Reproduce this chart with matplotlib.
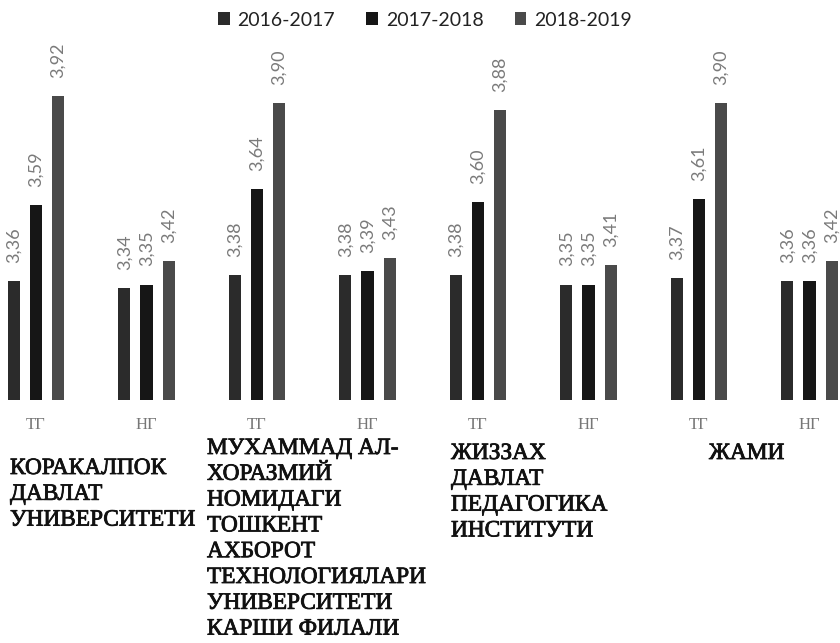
import numpy as np
import matplotlib.pyplot as plt
import matplotlib.patheffects as pe

series = ['2016-2017', '2017-2018', '2018-2019']
cats = ['ТГ', 'НГ', 'ТГ', 'НГ', 'ТГ', 'НГ', 'ТГ', 'НГ']
v2016 = [3.36, 3.34, 3.38, 3.38, 3.38, 3.35, 3.37, 3.36]
v2017 = [3.59, 3.35, 3.64, 3.39, 3.60, 3.35, 3.61, 3.36]
v2018 = [3.92, 3.42, 3.90, 3.43, 3.88, 3.41, 3.90, 3.42]
groups = ['КОРАКАЛПОК\nДАВЛАТ\nУНИВЕРСИТЕТИ',
          'МУХАММАД АЛ-\nХОРАЗМИЙ\nНОМИДАГИ\nТОШКЕНТ\nАХБОРОТ\nТЕХНОЛОГИЯЛАРИ\nУНИВЕРСИТЕТИ\nКАРШИ ФИЛАЛИ',
          'ЖИЗЗАХ\nДАВЛАТ\nПЕДАГОГИКА\nИНСТИТУТИ',
          'ЖАМИ']

colors = ['#2b2b2b', '#161616', '#4a4a4a']

fig = plt.figure(figsize=(8.4, 6.43), dpi=100)
ax = fig.add_axes([0, 243 / 643, 1, 360 / 643])

x = np.arange(len(cats))
w = 0.11
step = 0.2
for k, vals in enumerate([v2016, v2017, v2018]):
    pos = x + (k - 1) * step
    ax.bar(pos, np.array(vals) - 3.0, width=w, bottom=3.0,
           color=colors[k], label=series[k])
    for p, v in zip(pos, vals):
        ax.annotate(f'{v:.2f}'.replace('.', ','), (p, v), xytext=(0, 13),
                    textcoords='offset points', rotation=90, ha='center',
                    va='bottom', fontsize=13, color='#7a7a7a', family='Lato')

ax.set_xlim(-0.326, 7.276)
ax.set_ylim(3.0, 4.091)
ax.axis('off')

for i, c in enumerate(cats):
    ax.text(i, 2.925, c, ha='center', va='center', fontsize=12,
            color='#777777', family='Liberation Serif')

# text blocks: left edge in pixels, top in pixels
block_left = [10, 207, 451, 709]
block_top = [458, 438, 443, 443]
for i, g in enumerate(groups):
    fig.text(block_left[i] / 840, 1 - block_top[i] / 643, g,
             ha='left', va='top', fontsize=16.8,
             family='Liberation Serif', color='#111111', linespacing=1.3,
             path_effects=[pe.withStroke(linewidth=0.6, foreground='#111111')])

leg = ax.legend(loc='center', bbox_to_anchor=(425 / 840, 1 - 20 / 643),
                bbox_transform=fig.transFigure, ncol=3, frameon=False,
                prop={'family': 'Lato', 'size': 14}, handlelength=0.6,
                handleheight=0.6, handletextpad=0.4, columnspacing=1.6)
for t in leg.get_texts():
    t.set_color('#222222')

fig.savefig('out.png', dpi=100)
